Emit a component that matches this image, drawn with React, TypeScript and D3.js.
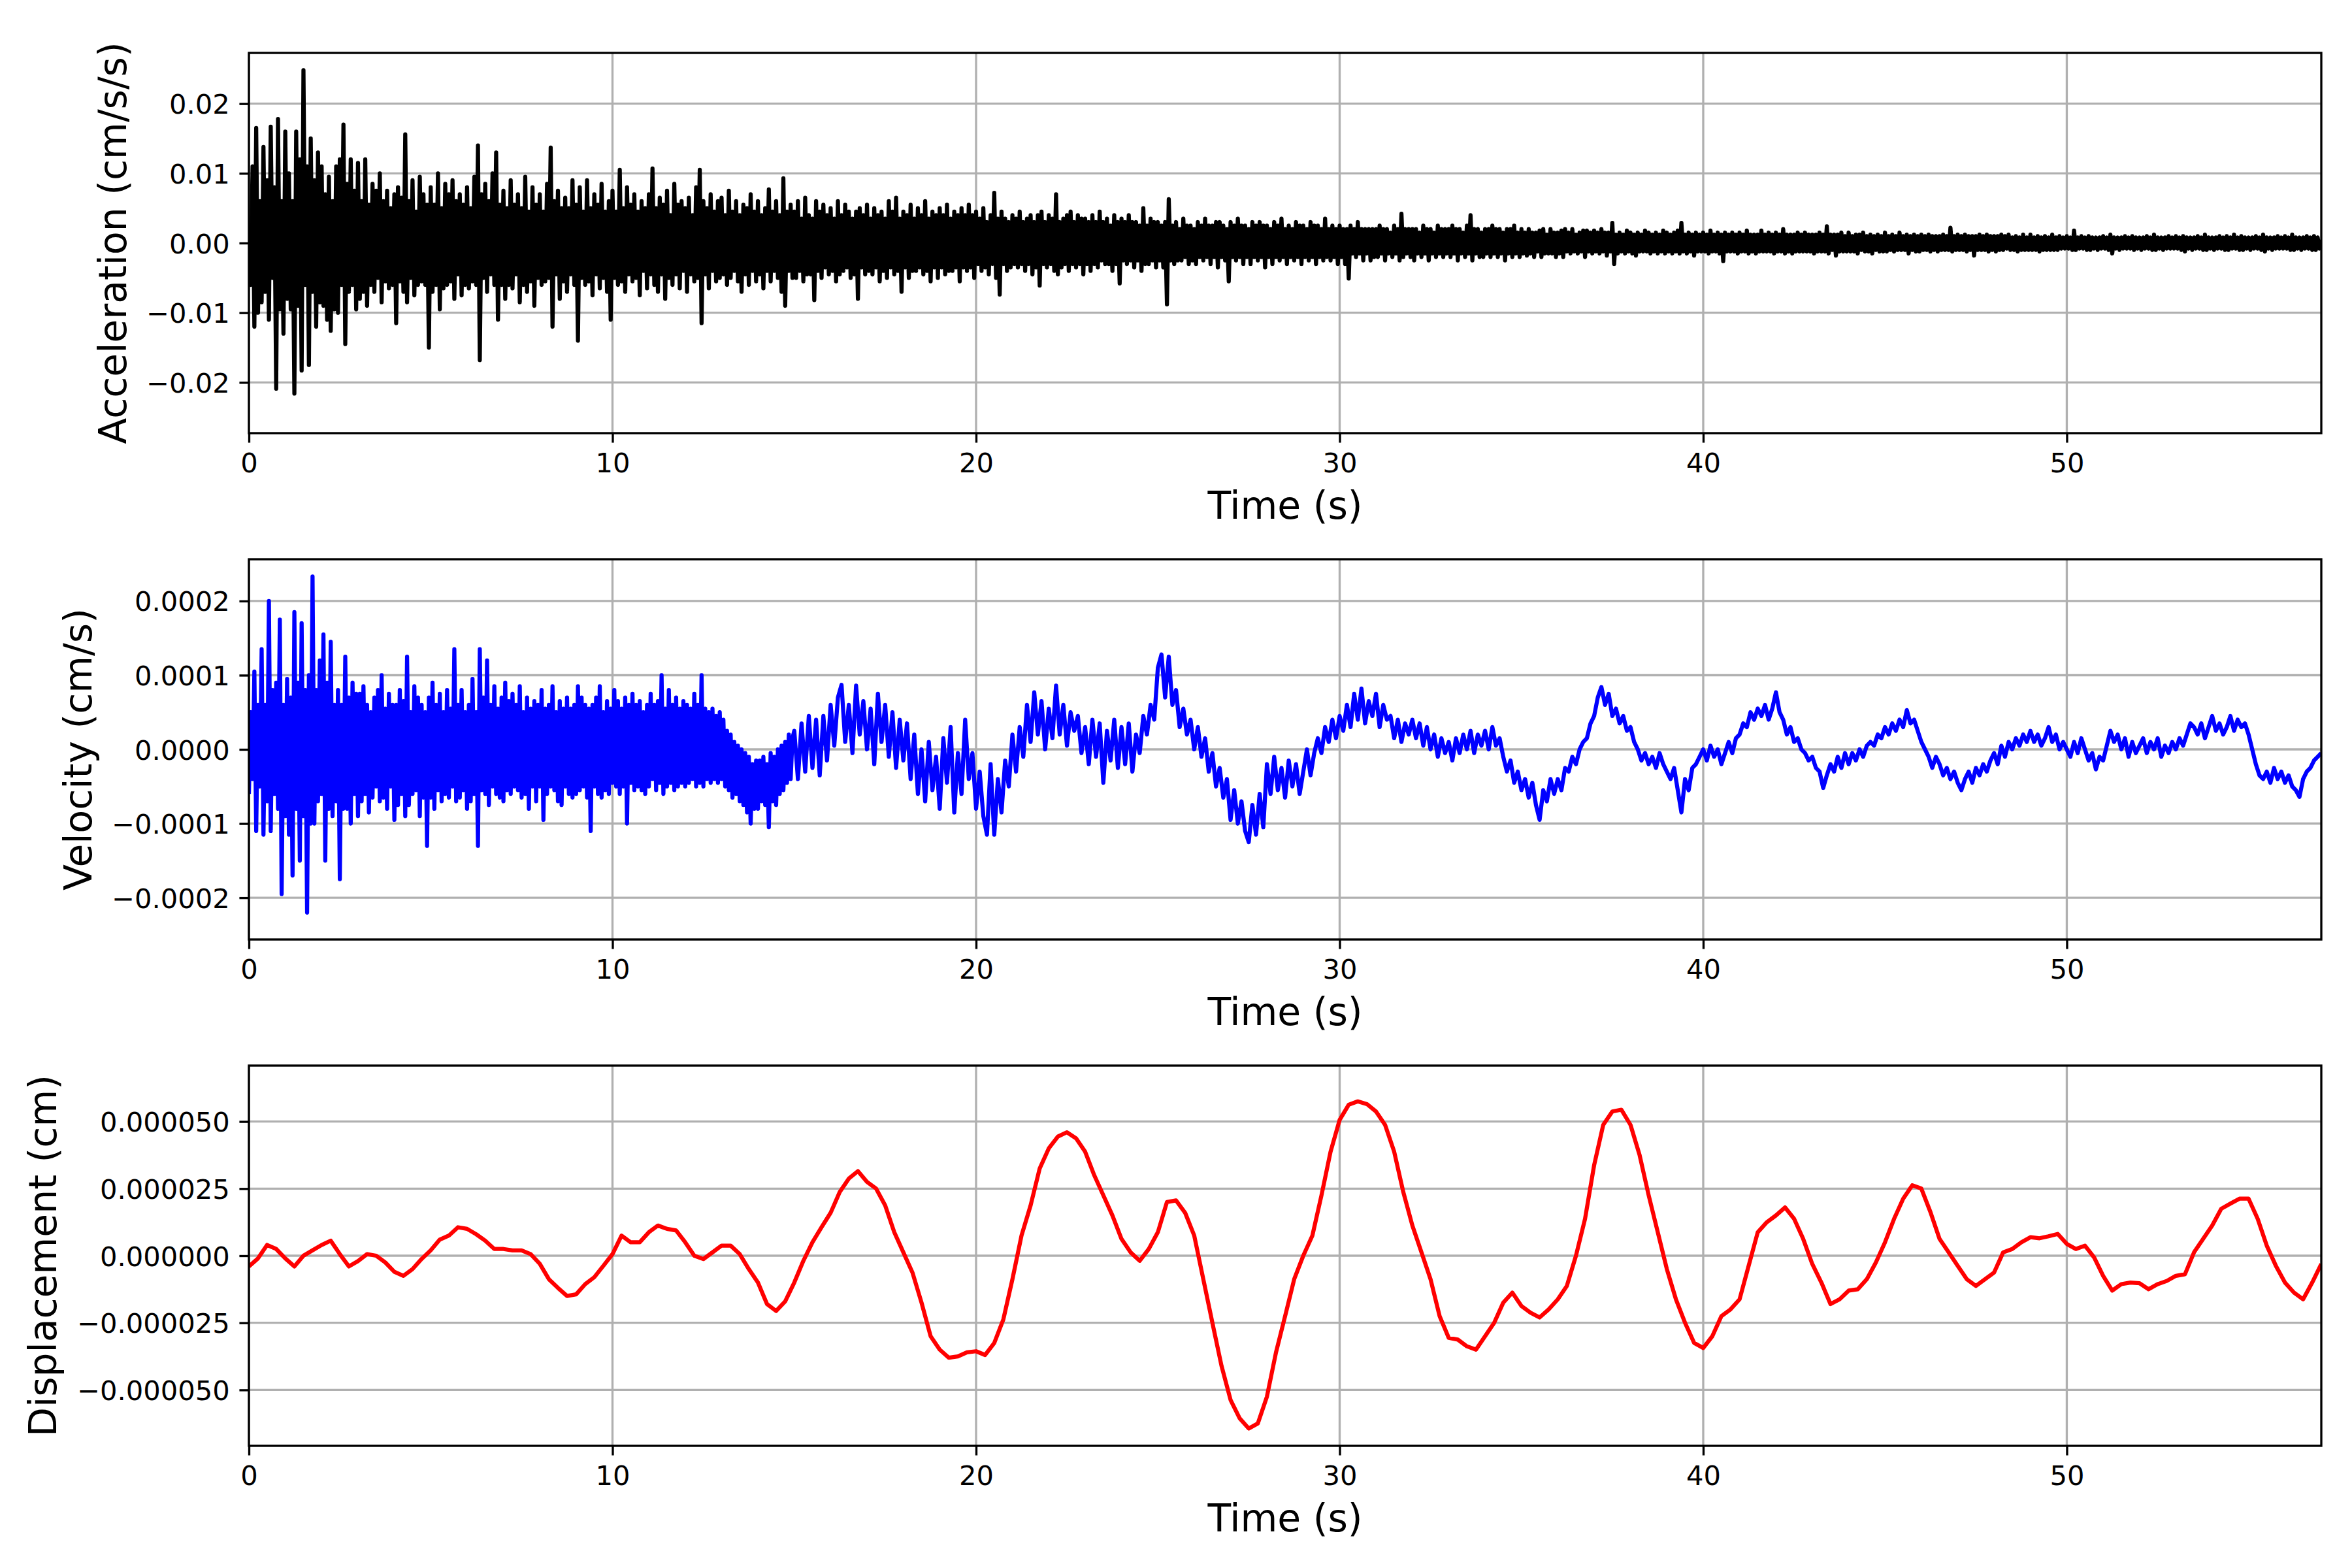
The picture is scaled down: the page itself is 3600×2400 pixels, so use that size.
import { useEffect, useRef } from "react"
import * as d3 from "d3"

// sampling steps of the records (s)
const ACCEL_STEP = 0.05
const VELOCITY_EARLY_STEP = 0.05
const VELOCITY_LATE_START = 15
const VELOCITY_LATE_STEP = 0.1
const DISPLACEMENT_STEP = 0.25
const TIME_END = 57

// acceleration, in 1e-4 cm/s/s, one row per second (20 samples)
const acceleration = [
  20, -60, 110, -120, 165, -100, 60, -85, 138, -70, 90, -110, 167, -50, 80, -209, 178, -95, 60, -130,
  160, -80, 100, -95, 60, -216, 160, -90, 120, -183, 248, -60, 110, -175, 150, -70, 90, -120, 130, -85,
  110, -90, 70, -110, 95, -126, 60, -95, 110, -100, 120, -60, 170, -145, 85, -70, 120, -60, 75, -95,
  115, -80, 60, -70, 120, -90, 55, -60, 85, -70, 75, -50, 100, -85, 60, -55, 75, -65, 50, -60,
  70, -115, 80, -55, 65, -70, 156, -85, 60, -50, 90, -75, 45, -60, 95, -55, 70, -60, 55, -150,
  80, -70, 55, -60, 100, -95, 50, -65, 85, -60, 70, -55, 90, -80, 60, -45, 70, -75, 55, -60,
  80, -65, 50, -55, 95, -60, 140, -168, 70, -50, 85, -70, 60, -45, 100, -60, 130, -110, 55, -60,
  75, -80, 50, -60, 90, -65, 55, -45, 70, -85, 50, -60, 95, -70, 45, -55, 80, -90, 55, -50,
  70, -60, 45, -55, 85, -50, 137, -120, 60, -45, 75, -80, 50, -55, 65, -70, 50, -45, 90, -60,
  55, -140, 80, -50, 45, -60, 90, -55, 50, -75, 70, -45, 55, -65, 85, -50, 45, -70, 60, -110,
  75, -50, 45, -60, 105, -55, 50, -70, 80, -45, 55, -55, 70, -50, 45, -75, 60, -40, 50, -65,
  70, -45, 107, -60, 50, -70, 65, -45, 55, -80, 75, -50, 40, -60, 85, -45, 55, -65, 60, -40,
  50, -70, 65, -45, 40, -55, 80, -50, 105, -115, 60, -45, 50, -65, 70, -40, 45, -55, 60, -50,
  65, -45, 40, -60, 75, -50, 45, -40, 60, -55, 40, -70, 55, -45, 50, -60, 70, -40, 45, -55,
  60, -45, 40, -65, 50, -40, 77, -55, 45, -40, 60, -50, 40, -70, 93, -90, 45, -40, 55, -50,
  45, -50, 60, -40, 35, -55, 65, -45, 40, -45, 35, -82, 60, -40, 45, -50, 55, -35, 40, -45,
  50, -40, 35, -55, 60, -45, 40, -40, 55, -35, 45, -50, 35, -45, 45, -80, 50, -35, 40, -45,
  55, -40, 35, -45, 50, -35, 40, -55, 45, -40, 35, -50, 60, -35, 45, -45, 65, -40, 35, -70,
  45, -35, 40, -50, 55, -40, 35, -40, 50, -35, 40, -45, 60, -40, 35, -55, 45, -35, 40, -50,
  50, -35, 40, -45, 55, -40, 35, -40, 45, -35, 40, -55, 50, -35, 40, -40, 55, -35, 40, -50,
  45, -30, 35, -40, 50, -35, 30, -45, 40, -30, 72, -50, 35, -74, 45, -30, 35, -40, 30, -35,
  40, -30, 35, -35, 45, -30, 30, -40, 35, -30, 40, -45, 30, -35, 40, -61, 45, -30, 30, -35,
  40, -30, 35, -40, 70, -45, 30, -35, 35, -30, 40, -40, 45, -30, 30, -35, 40, -30, 35, -45,
  35, -30, 30, -40, 40, -30, 30, -35, 45, -25, 30, -30, 35, -30, 25, -40, 40, -30, 30, -58,
  35, -25, 30, -30, 40, -25, 30, -35, 30, -25, 25, -40, 50, -30, 25, -30, 35, -25, 30, -35,
  30, -25, 25, -35, 30, -88, 63, -25, 25, -30, 30, -25, 20, -25, 35, -20, 25, -30, 25, -25,
  20, -30, 30, -20, 25, -25, 35, -20, 25, -30, 25, -20, 30, -35, 30, -20, 25, -25, 20, -55,
  30, -20, 25, -25, 35, -20, 25, -30, 25, -20, 20, -30, 30, -20, 25, -25, 30, -20, 25, -35,
  25, -20, 20, -30, 30, -20, 25, -25, 35, -20, 20, -30, 25, -20, 20, -25, 30, -20, 25, -30,
  25, -20, 20, -25, 30, -20, 25, -30, 25, -20, 20, -25, 35, -20, 20, -25, 25, -20, 20, -30,
  25, -20, 20, -30, 20, -51, 25, -15, 20, -20, 30, -15, 20, -25, 20, -15, 20, -25, 20, -20,
  20, -20, 25, -15, 20, -25, 20, -15, 15, -20, 25, -15, 20, -25, 42, -20, 20, -15, 20, -20,
  20, -25, 20, -15, 15, -20, 25, -15, 20, -25, 20, -15, 15, -20, 25, -15, 20, -20, 20, -15,
  20, -20, 25, -15, 20, -25, 20, -15, 15, -20, 25, -15, 40, -25, 20, -15, 20, -20, 15, -20,
  20, -15, 20, -20, 25, -15, 20, -20, 20, -15, 15, -25, 20, -15, 20, -20, 25, -15, 15, -20,
  20, -15, 15, -18, 20, -15, 15, -20, 15, -12, 18, -20, 20, -15, 12, -15, 20, -15, 15, -20,
  15, -15, 18, -20, 20, -12, 15, -15, 20, -12, 12, -15, 15, -12, 18, -20, 18, -12, 15, -15,
  18, -12, 15, -15, 20, -12, 15, -18, 15, -12, 29, -30, 12, -15, 15, -12, 12, -15, 18, -12,
  15, -15, 12, -18, 15, -12, 12, -12, 18, -12, 15, -15, 12, -12, 15, -15, 12, -12, 18, -15,
  15, -12, 12, -15, 15, -12, 18, -15, 29, -12, 12, -15, 15, -12, 12, -18, 15, -12, 12, -12,
  15, -12, 12, -15, 18, -12, 12, -12, 15, -15, 12, -26, 15, -12, 12, -12, 15, -12, 12, -15,
  15, -12, 12, -12, 18, -15, 12, -12, 12, -15, 12, -12, 18, -12, 12, -12, 15, -12, 12, -15,
  15, -12, 12, -12, 20, -15, 12, -12, 12, -15, 12, -12, 15, -12, 12, -12, 15, -12, 12, -12,
  12, -15, 12, -12, 15, -12, 12, -12, 24, -15, 12, -10, 12, -18, 12, -12, 15, -12, 10, -12,
  15, -12, 10, -12, 12, -15, 12, -10, 15, -12, 10, -12, 12, -15, 10, -10, 12, -12, 10, -12,
  15, -12, 10, -10, 12, -12, 10, -10, 15, -10, 10, -10, 12, -15, 10, -10, 12, -12, 10, -12,
  12, -10, 10, -10, 12, -12, 10, -10, 10, -12, 10, -10, 12, -10, 10, -10, 22, -12, 10, -10,
  12, -10, 10, -10, 12, -12, 10, -10, 10, -18, 10, -10, 12, -10, 10, -10, 12, -12, 10, -10,
  10, -12, 10, -10, 12, -10, 10, -8, 12, -10, 8, -10, 10, -12, 8, -10, 12, -10, 8, -10,
  12, -10, 8, -10, 10, -12, 8, -10, 10, -10, 8, -10, 12, -10, 8, -10, 10, -8, 8, -8,
  10, -8, 8, -10, 18, -10, 8, -8, 10, -8, 8, -10, 10, -10, 8, -8, 8, -10, 8, -8,
  10, -8, 8, -10, 12, -15, 8, -8, 8, -10, 8, -8, 10, -8, 8, -8, 10, -10, 8, -8,
  8, -10, 8, -8, 10, -8, 8, -10, 12, -10, 8, -8, 8, -10, 8, -8, 10, -8, 8, -8,
  10, -8, 8, -10, 10, -12, 8, -8, 8, -10, 8, -8, 10, -8, 8, -10, 12, -10, 8, -8,
  8, -10, 8, -8, 10, -8, 8, -10, 10, -10, 8, -8, 12, -8, 8, -10, 10, -10, 8, -8,
  8, -10, 8, -8, 10, -8, 8, -10, 12, -12, 8, -8, 8, -10, 8, -8, 10, -8, 8, -8,
  10, -8, 8, -10, 12, -10, 8, -8, 8, -10, 8, -8, 10, -8, 8, -10, 10, -10, 8, -8,
  5,
]

// velocity, in 1e-6 cm/s, 0 - 15 s, one row per second (20 samples)
const velocityEarly = [
  -60, 50, -40, 105, -110, 60, -50, 135, -115, 60, -70, 200, -110, 80, -60, 90, -80, 175, -195, 60,
  -90, 95, -115, 70, -170, 185, -80, 90, -150, 170, -90, 80, -220, 100, -100, 233, -100, 80, -70, 120,
  -60, 155, -150, 90, -80, 145, -90, 60, -70, 80, -175, 60, -80, 125, -80, 70, -100, 90, -60, 75,
  -90, 75, -70, 85, -60, 60, -85, 50, -65, 70, -50, 80, -70, 100, -65, 55, -80, 75, -50, 60,
  -95, 60, -75, 80, -60, 65, -90, 125, -75, 50, -60, 85, -55, 70, -90, 60, -65, 50, -130, 70,
  -65, 90, -80, 60, -55, 75, -70, 50, -60, 80, -65, 55, -50, 135, -70, 60, -65, 80, -55, 50,
  -80, 60, -70, 95, -60, 50, -130, 135, -55, 70, -60, 120, -75, 60, -50, 85, -60, 55, -65, 70,
  -70, 90, -55, 65, -60, 75, -50, 60, -55, 85, -65, 50, -60, 70, -80, 55, -50, 65, -70, 60,
  -50, 80, -95, 55, -60, 60, -50, 85, -55, 50, -70, 65, -75, 55, -50, 70, -60, 55, -65, 60,
  -60, 85, -55, 70, -50, 60, -65, 55, -110, 60, -50, 70, -60, 85, -65, 50, -55, 65, -60, 55,
  -45, 80, -50, 65, -60, 55, -50, 70, -100, 60, -45, 75, -55, 60, -50, 65, -55, 50, -60, 60,
  -50, 75, -40, 60, -55, 65, -45, 100, -60, 55, -50, 80, -45, 60, -55, 70, -50, 55, -45, 65,
  -50, 60, -45, 55, -40, 75, -50, 60, -45, 100, -50, 55, -40, 50, -45, 55, -40, 45, -45, 50,
  -40, 40, -50, 25, -55, 20, -65, 10, -60, 5, -70, 0, -75, -5, -85, -10, -100, -20, -80, -15,
  -80, -15, -70, -10, -75, -20, -105, -5, -70, -10, -75, 0, -60, 5, -55, 10, -45, 20, -40, 15,
]

// velocity, in 1e-6 cm/s, 15 - 57 s, one row per second (10 samples)
const velocityLate = [
  25, -40, 35, -30, 45, -25, 40, -35, 45, -15,
  60, 5, 70, 87, 10, 60, -5, 86, 20, 65,
  0, 55, -20, 75, 10, 60, -10, 50, -25, 40,
  -15, 35, -40, 20, -60, 0, -70, 10, -55, -10,
  -80, 15, -45, 30, -85, -5, -60, 40, -40, -5,
  -80, -30, -90, -115, -20, -115, -40, -85, -15, -50,
  20, -30, 30, -10, 60, 10, 77, 20, 65, 0,
  55, 15, 86, 20, 60, 5, 50, 25, 45, -5,
  30, -20, 40, -10, 35, -45, 25, -15, 40, -25,
  30, -20, 35, -30, 20, -5, 45, 20, 60, 40,
  110, 128, 70, 125, 60, 80, 30, 55, 20, 40,
  0, 30, -10, 15, -30, -5, -50, -25, -65, -40,
  -95, -55, -100, -70, -110, -125, -75, -115, -60, -105,
  -20, -60, -10, -55, -25, -65, -15, -50, -20, -60,
  -30, 0, -35, -5, 15, -5, 30, 10, 40, 15,
  45, 25, 60, 30, 75, 40, 82, 35, 65, 45,
  75, 30, 60, 40, 45, 15, 40, 10, 35, 20,
  40, 15, 35, 5, 30, 0, 20, -10, 15, -5,
  10, -15, 15, -5, 20, 0, 25, -5, 20, 5,
  25, 0, 30, 5, 15, -10, -30, -15, -45, -30,
  -55, -40, -65, -45, -75, -95, -55, -70, -40, -60,
  -40, -55, -25, -30, -10, -20, 0, 10, 15, 35,
  45, 70, 84, 60, 75, 45, 55, 35, 45, 25,
  30, 10, 0, -15, -5, -20, -10, -25, -5, -20,
  -30, -40, -25, -55, -85, -40, -55, -25, -20, -10,
  0, -15, 5, -10, 0, -20, -5, 10, -5, 15,
  20, 35, 30, 50, 40, 55, 45, 60, 40, 55,
  77, 50, 40, 20, 30, 10, 15, 0, -5, -15,
  -10, -25, -30, -52, -35, -20, -30, -10, -25, -5,
  -20, -5, -15, 0, -10, 5, 10, 5, 20, 15,
  30, 20, 35, 25, 40, 30, 53, 35, 40, 25,
  10, 0, -10, -25, -10, -20, -35, -25, -40, -30,
  -45, -55, -40, -30, -45, -25, -35, -20, -30, -15,
  -5, -20, 5, -10, 10, 0, 15, 5, 20, 10,
  25, 10, 20, 5, 15, 30, 10, 20, 0, 10,
  0, -10, 10, -5, 15, 0, -15, -5, -27, -10,
  -15, 5, 25, 10, 20, 0, 15, -10, 10, -5,
  5, 15, -5, 10, 0, 15, -10, 5, -5, 10,
  0, 15, 5, 20, 35, 30, 20, 35, 15, 30,
  45, 25, 35, 20, 30, 45, 25, 40, 30, 35,
  20, 0, -20, -35, -40, -30, -45, -25, -40, -30,
  -45, -35, -50, -55, -64, -40, -30, -25, -15, -10,
  -5,
]

// displacement, in 1e-6 cm, every 0.25 s (one row per 5 s)
const displacement = [
  -4, -1, 4, 2.5, -1, -4, 0, 2, 4, 5.6, 0.6, -4, -2, 0.6, 0, -2.5, -6, -7.5, -5, -1.2,
  2, 6, 7.5, 10.6, 10, 8, 5.6, 2.5, 2.5, 2, 2, 0.6, -3, -8.75, -12, -15, -14.4, -10.6, -8, -3.75,
  0.6, 7.5, 5, 5, 8.75, 11.25, 10, 9.4, 5, 0, -1.25, 1.25, 3.75, 3.75, 0.6, -5, -10, -18, -20.6, -17,
  -10, -1.9, 5, 10.6, 16, 23.75, 28.75, 31.5, 27.5, 25, 18.75, 8.75, 1.25, -6.25, -17.5, -30, -35, -38, -37.5, -36,
  -35.6, -37, -32.5, -23.75, -8.75, 7.5, 18.75, 32.5, 40, 44.4, 46, 43.75, 38.75, 30, 22.5, 15, 6.25, 1.25, -1.9, 2.5,
  8.75, 20, 20.6, 16, 7.5, -8.75, -25, -41, -53.75, -60.6, -64.4, -62.5, -52.5, -36, -22.5, -8.75, 0, 7.5, 22.5, 38.75,
  50.6, 56.25, 57.5, 56.5, 53.75, 48.75, 38.75, 23.75, 11.25, 1.25, -8.75, -22.5, -30.6, -31.25, -33.75, -35, -30, -25, -17.5, -13.75,
  -18.75, -21.25, -23, -20, -16.25, -11.25, 0, 13.75, 33.75, 48.75, 53.75, 54.4, 48.75, 37.5, 22.5, 8.75, -5, -16.25, -25, -32.5,
  -34.4, -30, -22.5, -20, -16.25, -3.75, 8.75, 12.5, 15, 18, 13.75, 6.25, -3.1, -10, -18, -16.25, -13, -12.5, -8.75, -2.5,
  5, 13.75, 21.25, 26.25, 25, 16.25, 6.25, 1.25, -3.75, -8.75, -11.25, -8.75, -6.25, 1.25, 2.5, 5, 6.9, 6.5, 7.25, 8.1,
  4.4, 2.5, 3.75, -0.6, -7.5, -13, -10.6, -10, -10.25, -12.5, -10.6, -9.4, -7.5, -6.9, 1.25, 6.25, 11.25, 17.5, 19.4, 21.25,
  21.25, 13.75, 3.75, -3.75, -10, -13.75, -16.25, -10, -3.1,
]

const timeTicks = [0, 10, 20, 30, 40, 50]
const accelTicks = [-0.02, -0.01, 0, 0.01, 0.02]
const velocityTicks = [-0.0002, -0.0001, 0, 0.0001, 0.0002]
const displacementTicks = [-0.00005, -0.000025, 0, 0.000025, 0.00005]

const WIDTH = 3600
const HEIGHT = 2400
const PT = 300 / 72 // one point in pixels
const FONT = "'DejaVu Sans', sans-serif"
const PLOT_LEFT = 381
const PLOT_RIGHT = 3553
const PLOT_HEIGHT = 582

type Pt = [number, number]

const sampled = (values: number[], step: number, unit: number, start = 0): Pt[] =>
  values.map((v, k) => [start + k * step, v * unit])

export default function App() {
  const svgRef = useRef<SVGSVGElement>(null)

  useEffect(() => {
    if (!svgRef.current) return
    const svg = d3.select(svgRef.current)
    svg.selectAll("*").remove()

    const panels = [
      {
        name: "Acceleration (cm/s/s)",
        points: sampled(acceleration, ACCEL_STEP, 1e-4),
        color: "#000000",
        ticks: accelTicks,
        fmt: ".2f",
        top: 81,
        labelX: 193,
      },
      {
        name: "Velocity (cm/s)",
        points: [
          ...sampled(velocityEarly, VELOCITY_EARLY_STEP, 1e-6),
          ...sampled(velocityLate, VELOCITY_LATE_STEP, 1e-6, VELOCITY_LATE_START),
        ],
        color: "#0000ff",
        ticks: velocityTicks,
        fmt: ".4f",
        top: 856,
        labelX: 140,
      },
      {
        name: "Displacement (cm)",
        points: sampled(displacement, DISPLACEMENT_STEP, 1e-6),
        color: "#ff0000",
        ticks: displacementTicks,
        fmt: ".6f",
        top: 1631,
        labelX: 86,
      },
    ]

    // time axis, shared by all panels
    const x = d3.scaleLinear().domain([0, TIME_END]).range([PLOT_LEFT, PLOT_RIGHT])

    panels.forEach((p, i) => {
      const top = p.top
      const bottom = top + PLOT_HEIGHT
      // symmetric limits, 10 % above the largest excursion
      const yMax = 1.1 * (d3.max(p.points, (d) => Math.abs(d[1])) as number)
      const y = d3.scaleLinear().domain([-yMax, yMax]).range([bottom, top])

      const g = svg.append("g")

      // grid
      g.append("g")
        .selectAll("line")
        .data(timeTicks)
        .join("line")
        .attr("x1", (d) => x(d))
        .attr("x2", (d) => x(d))
        .attr("y1", top)
        .attr("y2", bottom)
        .attr("stroke", "#b0b0b0")
        .attr("stroke-width", 0.8 * PT)
      g.append("g")
        .selectAll("line")
        .data(p.ticks)
        .join("line")
        .attr("x1", PLOT_LEFT)
        .attr("x2", PLOT_RIGHT)
        .attr("y1", (d) => y(d))
        .attr("y2", (d) => y(d))
        .attr("stroke", "#b0b0b0")
        .attr("stroke-width", 0.8 * PT)

      // series
      const clipId = `clip-${i}`
      g.append("clipPath")
        .attr("id", clipId)
        .append("rect")
        .attr("x", PLOT_LEFT)
        .attr("y", top)
        .attr("width", PLOT_RIGHT - PLOT_LEFT)
        .attr("height", PLOT_HEIGHT)

      const line = d3
        .line<Pt>()
        .x((d) => x(d[0]))
        .y((d) => y(d[1]))

      g.append("path")
        .datum(p.points)
        .attr("clip-path", `url(#${clipId})`)
        .attr("fill", "none")
        .attr("stroke", p.color)
        .attr("stroke-width", 1.5 * PT)
        .attr("stroke-linejoin", "round")
        .attr("d", line)

      // frame
      g.append("rect")
        .attr("x", PLOT_LEFT)
        .attr("y", top)
        .attr("width", PLOT_RIGHT - PLOT_LEFT)
        .attr("height", PLOT_HEIGHT)
        .attr("fill", "none")
        .attr("stroke", "#000")
        .attr("stroke-width", 0.8 * PT)

      // axes
      const gx = g
        .append("g")
        .attr("transform", `translate(0,${bottom})`)
        .call(
          d3
            .axisBottom(x)
            .tickValues(timeTicks)
            .tickFormat(d3.format("d") as any)
            .tickSize(3.5 * PT)
            .tickPadding(3.5 * PT),
        )
      const gy = g
        .append("g")
        .attr("transform", `translate(${PLOT_LEFT},0)`)
        .call(
          d3
            .axisLeft(y)
            .tickValues(p.ticks)
            .tickFormat(d3.format(p.fmt) as any)
            .tickSize(3.5 * PT)
            .tickPadding(3.5 * PT),
        )
      ;[gx, gy].forEach((a) => {
        a.select(".domain").remove()
        a.attr("font-size", 10 * PT).attr("font-family", FONT)
        a.selectAll("line").attr("stroke", "#000").attr("stroke-width", 0.8 * PT)
        a.selectAll("text").attr("fill", "#000")
      })
      gx.selectAll("text").attr("dy", "0.74em")
      gy.selectAll("text").attr("dy", "0.36em")

      // labels
      g.append("text")
        .attr("x", (PLOT_LEFT + PLOT_RIGHT) / 2)
        .attr("y", bottom + 131)
        .attr("text-anchor", "middle")
        .attr("font-family", FONT)
        .attr("font-size", 14 * PT)
        .text("Time (s)")

      g.append("text")
        .attr("transform", `translate(${p.labelX},${top + PLOT_HEIGHT / 2}) rotate(-90)`)
        .attr("text-anchor", "middle")
        .attr("font-family", FONT)
        .attr("font-size", 14 * PT)
        .text(p.name)
    })
  }, [])

  return (
    <div style={{ position: "absolute", left: 0, top: 0 }}>
      <svg ref={svgRef} width={WIDTH} height={HEIGHT} style={{ display: "block", background: "#fff" }} />
    </div>
  )
}
